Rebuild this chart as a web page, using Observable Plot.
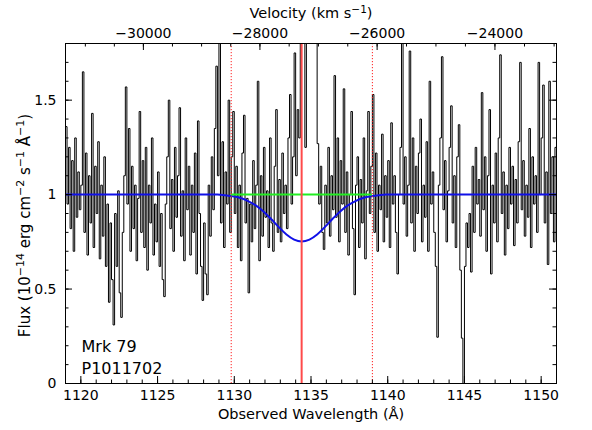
<!DOCTYPE html>
<html><head><meta charset="utf-8">
<script src="https://cdn.jsdelivr.net/npm/d3@7"></script>
<script src="https://cdn.jsdelivr.net/npm/@observablehq/plot@0.6"></script>
<style>body{margin:0;background:#fff}</style>
</head><body><div id="chart"></div>
<script>
// Observed spectrum (flux per bin), bins of 0.1 Å starting at 1119.0 Å (one row = 1 Å)
const specStart = 1119.0;
const specStep = 0.1;
const flux = [
1.36,0.95,1.25,0.82,1.18,0.70,1.30,0.88,1.12,0.92,
1.05,1.65,0.80,1.22,0.68,1.10,0.85,1.43,0.72,1.15,
0.90,1.28,0.66,1.05,0.78,1.20,0.62,0.95,0.43,0.85,
0.55,0.31,0.90,0.62,1.02,0.48,0.35,0.80,1.10,1.57,
0.95,1.35,0.70,1.15,0.82,1.05,0.65,0.98,1.44,0.80,
1.18,0.72,1.25,0.60,1.05,0.85,1.30,0.68,0.95,0.75,
1.12,0.62,0.90,0.55,0.46,0.95,1.20,1.50,0.82,1.08,
0.70,1.25,0.88,1.10,1.46,0.78,1.02,0.65,1.30,0.92,
1.15,0.68,1.05,0.80,1.22,0.58,1.39,0.90,0.62,0.44,
0.85,0.58,0.47,1.05,0.78,1.20,0.92,1.35,1.68,1.10,
1.95,0.85,1.28,0.72,1.12,0.95,1.50,0.80,1.20,1.44,
0.90,1.15,0.72,1.05,0.65,1.22,1.42,0.85,0.98,0.48,
0.95,0.75,1.18,0.82,1.05,1.60,0.65,1.10,0.78,1.25,
0.88,1.02,0.72,1.30,0.85,0.70,1.15,1.45,0.80,1.08,
0.75,1.22,0.90,1.05,0.82,1.30,1.53,0.95,1.20,1.75,
1.10,1.45,1.30,2.40,2.10,1.90,1.25,2.20,2.00,2.60,
2.30,2.50,2.10,2.20,1.27,0.95,1.15,0.80,0.71,1.05,
0.85,1.25,0.78,1.10,0.92,1.63,0.88,1.30,0.75,1.18,
0.95,1.56,0.80,1.12,0.68,1.00,1.44,0.82,0.47,1.05,
1.20,0.72,1.08,0.85,1.30,0.66,1.02,1.44,0.90,1.15,
1.53,0.80,1.22,0.70,1.05,0.92,1.32,0.75,1.10,0.88,
1.18,0.72,1.38,0.95,1.10,0.80,0.58,1.00,1.25,1.90,
0.95,1.20,0.78,1.05,1.76,0.85,1.30,0.70,1.15,0.90,
1.22,1.40,0.75,1.05,0.88,1.28,0.70,1.60,0.95,1.12,
0.80,0.62,0.245,1.05,1.30,1.73,0.92,1.18,0.75,1.02,
1.25,1.47,0.85,1.10,0.72,1.20,1.37,0.60,0.24,0.00,
0.62,0.85,0.72,0.90,0.59,1.15,0.80,1.25,0.95,1.08,
0.78,1.54,0.92,1.20,0.70,1.10,1.45,0.58,1.05,0.85,
1.22,0.75,1.30,1.74,0.90,1.12,0.68,1.05,0.82,1.25,
0.95,1.15,0.73,1.08,0.85,1.28,1.70,0.92,1.18,0.78,
1.05,0.88,1.35,0.72,1.20,0.95,1.10,0.80,1.70,1.00,
1.30,1.58,0.85,1.12,0.63,1.60,0.90,1.20,0.75,1.25
];

// Absorption model (blue)
const modelWave = [1119.0,1128.9,1129.4,1129.9,1130.4,1130.9,1131.4,1131.9,1132.4,1132.9,1133.4,1133.9,1134.39,1134.9,1135.4,1135.9,1136.4,1136.9,1137.4,1137.9,1138.4,1138.9,1139.4,1139.9,1151.0];
const modelFlux = [1.0,1.0,0.996,0.991,0.982,0.966,0.943,0.911,0.871,0.828,0.789,0.762,0.752,0.762,0.789,0.828,0.871,0.911,0.943,0.966,0.982,0.991,0.996,1.0,1.0];

const continuumLevel = 1;
const lineCenter = 1134.39;           // red solid line
const windowEdges = [1129.8, 1139.0]; // red dotted lines / green continuum span

const xDomain = [1119, 1151];
const yDomain = [0, 1.8];
const xMajor = [1120,1125,1130,1135,1140,1145,1150];
const xMinor = d3.range(1119, 1151.001, 1);
const yMajor = [0, 0.5, 1, 1.5];
const yMinor = d3.range(0, 1.8001, 0.1).map(v => +v.toFixed(1));
const velMajor = [-30000, -28000, -26000, -24000];
const velMinor = d3.range(-31000, -22999, 500);
const restWave = 1242.80; // N V
const cKms = 299792.458;
const vToLam = v => { const b = v / cKms; return restWave * Math.sqrt((1 + b) / (1 - b)); };

const specData = flux.map((f, i) => ({x: specStart + i * specStep, y: f}));
specData.push({x: specStart + flux.length * specStep, y: flux[flux.length - 1]});
const modelData = modelWave.map((w, i) => ({x: w, y: modelFlux[i]}));

// titles, split into normal / superscript parts
const xTitle = "Observed Wavelength (Å)";
const vTitleParts = [["Velocity (km s", 0], ["\u22121", 1], [")", 0]];
const yTitleParts = [["Flux (10", 0], ["\u221214", 1], [" erg cm", 0], ["\u22122", 1], [" s", 0], ["\u22121", 1], [" Å", 0], ["\u22121", 1], [")", 0]];
const labelLines = ["Mrk 79", "P1011702"];

const W = 592, H = 430;
const mL = 65, mR = 36, mT = 43, mB = 47;
const innerW = W - mL - mR, innerH = H - mT - mB;
const majLen = 7, minLen = 3.5;
const font = "DejaVu Sans, sans-serif";
const joinParts = p => p.map(d => d[0]).join("");

const chart = Plot.plot({
  width: W, height: H,
  marginLeft: mL, marginRight: mR, marginTop: mT, marginBottom: mB,
  style: {fontFamily: font, fontSize: "14px", background: "#fff", color: "#000"},
  x: {domain: xDomain, axis: null},
  y: {domain: yDomain, axis: null},
  marks: [
    Plot.line(specData, {x: "x", y: "y", curve: "step-after", stroke: "#000", strokeWidth: 1, clip: true}),
    Plot.line(modelData, {x: "x", y: "y", curve: "monotone-x", stroke: "#1010e8", strokeWidth: 2, clip: true}),
    Plot.ruleY([continuumLevel], {x1: windowEdges[0], x2: windowEdges[1], stroke: "#22ee22", strokeWidth: 2}),
    Plot.ruleX(windowEdges, {stroke: "#ff2020", strokeWidth: 1, strokeDasharray: "1.2,1.8"}),
    Plot.ruleX([lineCenter], {stroke: "#ff4a4a", strokeWidth: 2}),
    Plot.frame({stroke: "#000", strokeWidth: 1}),
    // inward ticks bottom
    Plot.tickX(xMajor, {x: d => d, insetTop: innerH - majLen, stroke: "#000"}),
    Plot.tickX(xMinor, {x: d => d, insetTop: innerH - minLen, stroke: "#000"}),
    // inward ticks top (velocity)
    Plot.tickX(velMajor.map(vToLam), {x: d => d, insetBottom: innerH - majLen, stroke: "#000"}),
    Plot.tickX(velMinor.map(vToLam), {x: d => d, insetBottom: innerH - minLen, stroke: "#000"}),
    // inward ticks left and right
    Plot.tickY(yMajor, {y: d => d, insetRight: innerW - majLen, stroke: "#000"}),
    Plot.tickY(yMinor, {y: d => d, insetRight: innerW - minLen, stroke: "#000"}),
    Plot.tickY(yMajor, {y: d => d, insetLeft: innerW - majLen, stroke: "#000"}),
    Plot.tickY(yMinor, {y: d => d, insetLeft: innerW - minLen, stroke: "#000"}),
    // tick labels
    Plot.text(xMajor, {x: d => d, text: d => String(d), frameAnchor: "bottom", dy: 12, lineAnchor: "middle", fontSize: 14}),
    Plot.text(yMajor, {y: d => d, text: d => String(d), frameAnchor: "left", dx: -9, textAnchor: "end", lineAnchor: "middle", fontSize: 14}),
    Plot.text(velMajor, {x: v => vToLam(v), text: v => "\u2212" + Math.abs(v), frameAnchor: "top", dy: -10, lineAnchor: "middle", fontSize: 14}),
    // axis titles
    Plot.text([xTitle], {frameAnchor: "bottom", dy: 31, lineAnchor: "middle", fontSize: 14.5}),
    Plot.text([joinParts(vTitleParts)], {frameAnchor: "top", dy: -30, lineAnchor: "middle", fontSize: 14.5}),
    Plot.text([joinParts(yTitleParts)], {frameAnchor: "left", dx: -40, dy: 12, rotate: -90, textAnchor: "middle", lineAnchor: "middle", fontSize: 15}),
    // labels
    Plot.text([labelLines[0]], {frameAnchor: "bottom-left", dx: 16, dy: -32, textAnchor: "start", lineAnchor: "bottom", fontSize: 16}),
    Plot.text([labelLines[1]], {frameAnchor: "bottom-left", dx: 16, dy: -10, textAnchor: "start", lineAnchor: "bottom", fontSize: 16})
  ]
});

// turn superscript parts into real raised tspans
function superscriptify(root, parts, supSize, shift) {
  const full = joinParts(parts);
  root.querySelectorAll("text").forEach(t => {
    if (t.textContent !== full) return;
    while (t.firstChild) t.removeChild(t.firstChild);
    let raised = false;
    parts.forEach(([s, sup]) => {
      const ts = document.createElementNS("http://www.w3.org/2000/svg", "tspan");
      ts.textContent = s;
      if (sup && !raised) { ts.setAttribute("dy", -shift); raised = true; }
      else if (!sup && raised) { ts.setAttribute("dy", shift); raised = false; }
      if (sup) ts.setAttribute("font-size", supSize);
      t.appendChild(ts);
    });
  });
}
superscriptify(chart, yTitleParts, 11, 6);
superscriptify(chart, vTitleParts, 10.5, 5.5);

document.getElementById("chart").appendChild(chart);
</script>
</body></html>
